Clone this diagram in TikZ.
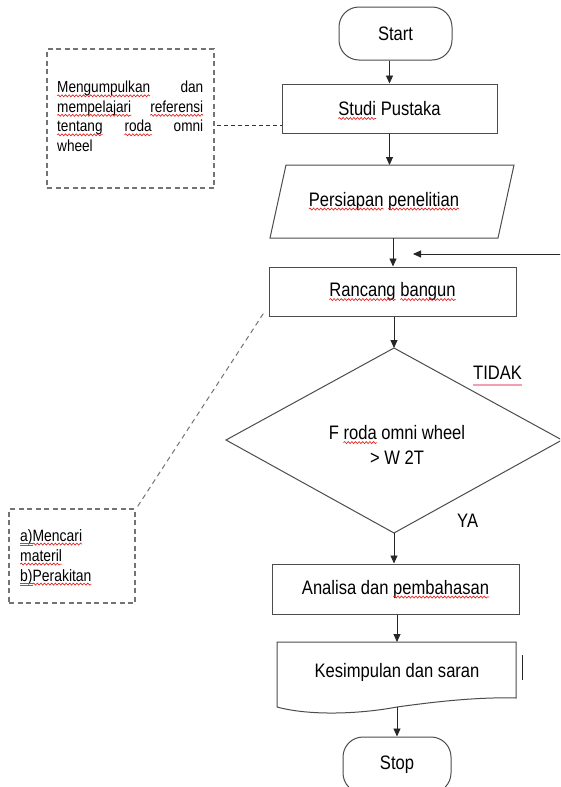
\documentclass[tikz,border=0pt]{standalone}
\usepackage{fontspec}
\setmainfont{Liberation Sans}[FakeStretch=0.85]
\usetikzlibrary{arrows.meta,decorations.pathmorphing}
\definecolor{sqred}{rgb}{0.9,0.12,0.12}
\definecolor{sqblue}{rgb}{0.25,0.4,0.85}
\definecolor{tpink}{HTML}{F0A0B0}
\newsavebox\sqbox
\newcommand\sq[1]{\leavevmode\sbox\sqbox{#1}\rlap{\usebox\sqbox}\tikz[baseline=0pt,x=1pt,y=1pt]{\useasboundingbox (0,0) rectangle (\wd\sqbox,0.1);
  \draw[sqred, line width=0.65pt, solid, sharp corners, decorate, decoration={snake,amplitude=1pt,segment length=3.6pt}] (0,-3) -- (\wd\sqbox,-3);}}
\newcommand\bl[1]{\leavevmode\sbox\sqbox{#1}\rlap{\usebox\sqbox}\tikz[baseline=0pt,x=1pt,y=1pt]{\useasboundingbox (0,0) rectangle (\wd\sqbox,0.1);
  \draw[sqblue, line width=0.6pt, solid, sharp corners] (0,-2.2) -- (\wd\sqbox,-2.2) (0,-3.9) -- (\wd\sqbox,-3.9);}}
\tikzset{
  proc/.style={draw=black!70, line width=1pt, inner sep=0pt, font=\fontsize{19.5}{22}\selectfont},
  term/.style={proc, rounded corners=20pt},
  shp/.style={draw=black!70, line width=1pt},
  arr/.style={draw=black!85, line width=0.9pt, -{Triangle[length=8pt,width=7pt]}},
  note/.style={draw=black!55, line width=1.4pt, dash pattern=on 5pt off 3.5pt, inner sep=0pt},
  lbl/.style={inner sep=0pt, font=\fontsize{19.5}{22}\selectfont},
  conn/.style={draw=black!80, line width=0.9pt, dash pattern=on 4pt off 3pt}
}
\begin{document}
\begin{tikzpicture}[x=1pt,y=-1pt]
\clip (0,0) rectangle (560,787);
\fill[white] (0,0) rectangle (560,787);

% Start
\node[term, minimum width=113pt, minimum height=53pt] (start) at (395.5,33.5) {Start};
% Studi Pustaka
\node[proc, minimum width=215pt, minimum height=49pt] (studi) at (389.5,108.5) {\sq{Studi} Pustaka};
\draw[arr] (studi.north |- start.south) -- (studi.north);

% Persiapan penelitian (parallelogram)
\coordinate (pa) at (286,165);
\coordinate (pb) at (514,165);
\coordinate (pc) at (498,238);
\coordinate (pd) at (270,238);
\draw[shp] (pa) -- (pb) -- (pc) -- (pd) -- cycle;
\node[lbl] (persiapan) at (384,201) {\sq{Persiapan} \sq{penelitian}};
\coordinate (ptop) at (390,165);
\coordinate (pbot) at (393,238);
\draw[arr] (studi.south) -- (studi.south |- ptop);

% Rancang bangun
\node[proc, minimum width=247pt, minimum height=49pt] (rancang) at (392.5,291.5) {\sq{Rancang} \sq{bangun}};
\draw[arr] (pbot) -- (pbot |- rancang.north);

% feedback arrow
\coordinate (fb) at (561,254);
\coordinate (fbend) at (413,254);
\draw[arr] (fb) -- (fbend);

% Decision diamond
\coordinate (dtop) at (394,348);
\coordinate (dright) at (562,440);
\coordinate (dbot) at (394,533);
\coordinate (dleft) at (226,440);
\draw[shp] (dtop) -- (dright) -- (dbot) -- (dleft) -- cycle;
\draw[arr] (rancang.south -| dtop) -- (dtop);
\node[lbl, align=center, font=\fontsize{19.5}{25}\selectfont] (cond) at (397,445) {F \sq{roda} omni wheel\\> W 2T};

\node[lbl, anchor=base west] (tidak) at (473,379) {TIDAK};
\draw[tpink, line width=2.6pt] (tidak.base west) ++(0,6) coordinate (u1) -- (u1 -| tidak.base east);
\node[lbl, anchor=base west] (ya) at (457,527) {YA};

% Analisa
\node[proc, minimum width=247pt, minimum height=50pt] (analisa) at (395.5,589) {Analisa dan \sq{pembahasan}};
\draw[arr] (dbot) -- (dbot |- analisa.north);

% Kesimpulan (document shape)
\coordinate (ka) at (277,642);
\coordinate (kb) at (516,642);
\coordinate (kc) at (516,698);
\coordinate (kd) at (277,707);
\coordinate (ktop) at (397,642);
\coordinate (kbot) at (397,707);
\draw[shp] (kd) -- (ka) -- (kb) -- (kc) .. controls (480,697) and (440,701) .. (kbot) .. controls (360,714) and (310,716) .. (kd);
\node[lbl] (kes) at (397,672) {Kesimpulan dan saran};
\draw[arr] (analisa.south -| ktop) -- (ktop);
\coordinate (bar1) at (522,655);
\coordinate (bar2) at (522,680);
\draw[line width=1pt, black!85] (bar1) -- (bar2);

% Stop
\node[term, minimum width=108pt, minimum height=56pt] (stop) at (397,765) {Stop};
\draw[arr] (kbot) -- (kbot |- stop.north);

% Note box 1
\node[note, minimum width=167pt, minimum height=139pt] (box1) at (130.5,118.5) {};
\node[inner sep=0pt, anchor=north west, text width=146pt, align=justify,
      font=\fontsize{16}{19.5}\selectfont] (t1) at (57,81)
  {\sq{Mengumpulkan} dan\linebreak \sq{mempelajari} \sq{referensi}\linebreak \sq{tentang} \sq{roda} omni\linebreak wheel};
\coordinate (c1) at (217,125);
\draw[conn] (c1) -- (studi.west |- c1);

% Note box 2
\node[note, minimum width=126pt, minimum height=94pt] (box2) at (72,556) {};
\node[inner sep=0pt, anchor=north west, text width=105pt, align=left,
      font=\fontsize{16.4}{20}\selectfont] (t2) at (20,529)
  {\bl{a)}\sq{Mencari}\\\sq{materil}\\\bl{b)}\sq{Perakitan}};
\coordinate (c2) at (265,311);
\draw[note, line width=1pt, dash pattern=on 5pt off 4pt] ([shift={(2,-2)}]box2.north east) -- (c2);
\end{tikzpicture}
\end{document}
